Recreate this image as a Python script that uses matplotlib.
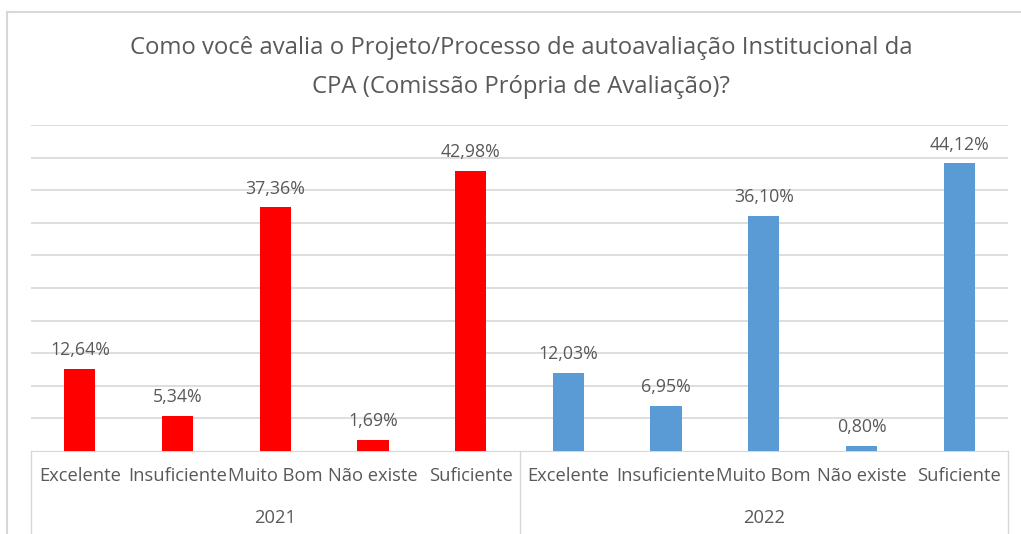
import matplotlib.pyplot as plt
import matplotlib.transforms as mtransforms
from matplotlib.lines import Line2D

# ========================
# DATA
# ========================
YEARS = ["2021", "2022"]
CATEGORIES = ["Excelente", "Insuficiente", "Muito Bom", "Não existe", "Suficiente"]
VALUES_2021 = [12.64, 5.34, 37.36, 1.69, 42.98]
VALUES_2022 = [12.03, 6.95, 36.10, 0.80, 44.12]
COLORS = {"2021": "#FF0000", "2022": "#5B9BD5"}
TITLE = ("Como você avalia o Projeto/Processo de autoavaliação Institucional da\n"
         "CPA (Comissão Própria de Avaliação)?")

FONT = ["Open Sans", "DejaVu Sans"]
TEXT_COLOR = "#595959"
GRID_COLOR = "#D5D9D5"

W, H = 1021, 534
fig = plt.figure(figsize=(W / 100, H / 100), dpi=100)
plt.rcParams["font.family"] = FONT

# plot area in pixels: x 31..1008, y baseline 451, top (50%) 125
left, right, base, top = 31, 1008, 451, 125
ax = fig.add_axes([left / W, 1 - base / H, (right - left) / W, (base - top) / H])

values = VALUES_2021 + VALUES_2022
colors = [COLORS["2021"]] * len(VALUES_2021) + [COLORS["2022"]] * len(VALUES_2022)
xs = list(range(len(values)))
bars = ax.bar(xs, values, width=0.32, color=colors, zorder=3)

for x, v in zip(xs, values):
    ax.annotate(f"{v:.2f}%".replace(".", ","), (x, v), xytext=(0, 7),
                textcoords="offset points", ha="center", va="bottom",
                fontsize=12.8, color=TEXT_COLOR)

ax.set_xlim(-0.5, len(values) - 0.5)
ax.set_ylim(0, 50)
ax.set_yticks(range(5, 51, 5))
ax.yaxis.grid(True, color=GRID_COLOR, linewidth=1.2, zorder=0)
ax.tick_params(left=False, labelleft=False, bottom=False, labelbottom=False)
for s in ["left", "right", "top"]:
    ax.spines[s].set_visible(False)
ax.spines["bottom"].set_color(GRID_COLOR)

# multi-level category axis
trans = mtransforms.blended_transform_factory(ax.transData, fig.transFigure)
y_cat = 1 - 476 / H
y_year = 1 - 518 / H
for i, x in enumerate(xs):
    ax.text(x, y_cat, CATEGORIES[i % len(CATEGORIES)], transform=trans,
            ha="center", va="center", fontsize=13.2, color=TEXT_COLOR)
n = len(CATEGORIES)
for j, year in enumerate(YEARS):
    ax.text(j * n + (n - 1) / 2, y_year, year, transform=trans,
            ha="center", va="center", fontsize=13.2, color=TEXT_COLOR)
for xb in [-0.5, n - 0.5, 2 * n - 0.5]:
    fig.add_artist(Line2D([xb, xb], [1 - base / H, 0], transform=trans,
                          color=GRID_COLOR, linewidth=1))

# chart border
fig.add_artist(Line2D([7 / W, 7 / W], [0, 1 - 12 / H], color=GRID_COLOR, linewidth=1.5))
fig.add_artist(Line2D([7 / W, 1], [1 - 12 / H, 1 - 12 / H], color=GRID_COLOR, linewidth=1.5))

fig.text(521 / W, 1 - 67.5 / H, TITLE, ha="center", va="center", fontsize=17.2,
         color=TEXT_COLOR, linespacing=1.85)

fig.savefig("out.png", dpi=100)
